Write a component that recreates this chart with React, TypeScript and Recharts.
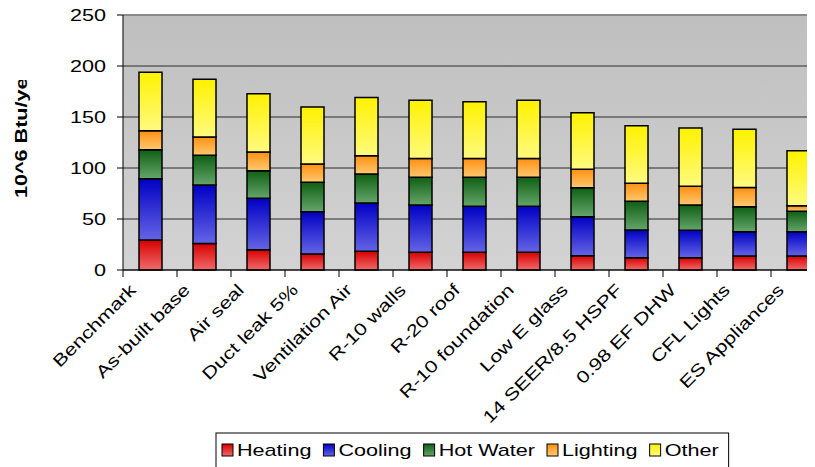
import React from 'react';
import { BarChart, Bar, XAxis, YAxis, CartesianGrid, ReferenceLine } from 'recharts';

const FONT = '"Liberation Sans", Arial, sans-serif';
const SX = 1.27;

const categories = [
  'Benchmark', 'As-built base', 'Air seal', 'Duct leak 5%', 'Ventilation Air', 'R-10 walls',
  'R-20 roof', 'R-10 foundation', 'Low E glass', '14 SEER/8.5 HSPF', '0.98 EF DHW', 'CFL Lights', 'ES Appliances',
];
const heating = [29.4, 26, 19.9, 15.7, 18.3, 17.3, 17.3, 17.3, 14, 12.1, 12.1, 13.7, 13.7];
const cooling = [60.1, 57.3, 50.4, 41.5, 47.4, 46.4, 45.1, 45.1, 38.3, 27.1, 26.8, 23.9, 23.9];
const hotWater = [28.5, 29.1, 27.1, 28.8, 28.4, 27.2, 28.5, 28.5, 28.4, 28.1, 24.8, 24.5, 19.9];
const lighting = [18.6, 18, 18.3, 17.9, 17.9, 18.3, 18.3, 18.3, 18, 17.7, 18.3, 18.9, 5.5];
const other = [57.2, 56.6, 57.2, 55.9, 57, 57.2, 55.8, 57.2, 55.5, 56.5, 57.2, 56.9, 54];

const seriesNames = ['Heating', 'Cooling', 'Hot Water', 'Lighting', 'Other'];
const seriesKeys = ['heating', 'cooling', 'hotWater', 'lighting', 'other'];
const seriesValues = [heating, cooling, hotWater, lighting, other];
const seriesTop = ['#d80000', '#0000c4', '#0f5f14', '#ff9010', '#fff200'];
const seriesBottom = ['#f06a6a', '#6464e6', '#64a66a', '#ffc870', '#fffa80'];
const yTicks = [0, 50, 100, 150, 200, 250];
const yLabel = '10^6 Btu/year';

const data = categories.map((name, i) => {
  const row: Record<string, any> = { name };
  seriesKeys.forEach((k, s) => { row[k] = seriesValues[s][i]; });
  return row;
});

const W = 830;
const H = 478;
const PLOT_LEFT = 115;
const PLOT_RIGHT = 817;
const PLOT_TOP = 15;
const PLOT_BOTTOM = 270;
const STEP = (PLOT_RIGHT - PLOT_LEFT) / categories.length;

function measure(t: string): number {
  try {
    const ctx = document.createElement('canvas').getContext('2d');
    if (ctx) {
      ctx.font = `17px ${FONT}`;
      return ctx.measureText(t).width;
    }
  } catch (e) {}
  return t.length * 9;
}

function XTick(props: any) {
  const { x, y, payload, index } = props;
  const bx = x - STEP / 2;
  return (
    <g>
      <line x1={bx} y1={y} x2={bx} y2={y + 7} stroke="#000" strokeWidth={1} />
      {index === categories.length - 1 && (
        <line x1={x + STEP / 2} y1={y} x2={x + STEP / 2} y2={y + 7} stroke="#000" strokeWidth={1} />
      )}
      <text
        transform={`translate(${x - 13},${y + 21}) rotate(-45) scale(${SX},1)`}
        textAnchor="end"
        fontSize={17}
        fontFamily={FONT}
        fill="#000"
      >
        {payload.value}
      </text>
    </g>
  );
}

function YTick(props: any) {
  const { x, y, payload } = props;
  return (
    <text
      transform={`translate(${x},${y}) scale(${SX},1)`}
      textAnchor="end"
      dy="0.36em"
      fontSize={17}
      fontFamily={FONT}
      fill="#000"
    >
      {payload.value}
    </text>
  );
}

function LegendBox() {
  const boxX = 208;
  const boxY = 433;
  let cx = boxX + 6;
  const items = seriesNames.map((n, i) => {
    const mx = cx;
    const tx = mx + 15;
    const w = measure(n) * SX;
    cx = tx + w + 12;
    return { n, i, mx, tx };
  });
  const boxW = cx - boxX - 2;
  return (
    <g>
      <rect x={boxX} y={boxY} width={boxW} height={60} fill="#fff" stroke="#000" strokeWidth={1} />
      {items.map(({ n, i, mx, tx }) => (
        <g key={n}>
          <rect x={mx} y={boxY + 11} width={11} height={12} fill={`url(#lg${i})`} stroke="#000" strokeWidth={1} />
          <text
            transform={`translate(${tx},${boxY + 23}) scale(${SX},1)`}
            fontSize={17}
            fontFamily={FONT}
            fill="#000"
          >
            {n}
          </text>
        </g>
      ))}
    </g>
  );
}

export default function App() {
  return (
    <div style={{ margin: '-8px 0 0 -8px', width: 815, height: 467, overflow: 'hidden', position: 'relative' }}>
      <div style={{ position: 'absolute', left: 8, top: 0 }}>
        <BarChart
          width={W}
          height={H}
          data={data}
          margin={{ top: PLOT_TOP, right: W - PLOT_RIGHT, left: 0, bottom: 0 }}
        >
          <defs>
            <linearGradient id="plotBg" x1="0" y1="0" x2="0" y2="1">
              <stop offset="0" stopColor="#bfbfbf" />
              <stop offset="1" stopColor="#d3d3d3" />
            </linearGradient>
            {seriesKeys.map((k, i) => (
              <linearGradient key={k} id={`g${i}`} x1="0" y1="0" x2="0" y2="1">
                <stop offset="0" stopColor={seriesTop[i]} />
                <stop offset="1" stopColor={seriesBottom[i]} />
              </linearGradient>
            ))}
            {seriesKeys.map((k, i) => (
              <linearGradient key={k} id={`lg${i}`} x1="0" y1="0" x2="0" y2="1">
                <stop offset="0" stopColor={seriesTop[i]} />
                <stop offset="1" stopColor={seriesBottom[i]} />
              </linearGradient>
            ))}
            <clipPath id="ylabClip">
              <rect x={0} y={80} width={60} height={200} />
            </clipPath>
          </defs>
          <CartesianGrid vertical={false} stroke="#2a2a2a" strokeWidth={1} fill="url(#plotBg)" fillOpacity={1} />
          <ReferenceLine y={250} stroke="#8a8a8a" strokeWidth={2} />
          <XAxis
            dataKey="name"
            interval={0}
            height={H - PLOT_BOTTOM}
            tickLine={false}
            tickSize={0}
            tickMargin={0}
            axisLine={{ stroke: '#000', strokeWidth: 1 }}
            tick={<XTick />}
          />
          <YAxis
            width={PLOT_LEFT}
            domain={[0, 250]}
            ticks={yTicks}
            interval={0}
            tickSize={6}
            tickMargin={11}
            tickLine={{ stroke: '#000' }}
            axisLine={{ stroke: '#000', strokeWidth: 1 }}
            tick={<YTick />}
          />
          {seriesKeys.map((k, i) => (
            <Bar
              key={k}
              dataKey={k}
              name={seriesNames[i]}
              stackId="a"
              barSize={23}
              fill={`url(#g${i})`}
              stroke="#000"
              strokeWidth={1.5}
              isAnimationActive={false}
            />
          ))}
          <g clipPath="url(#ylabClip)">
            <text
              transform={`translate(19,198) rotate(-90) scale(${SX},1)`}
              textAnchor="start"
              fontSize={17}
              fontWeight="bold"
              fontFamily={FONT}
              fill="#000"
            >
              {yLabel}
            </text>
          </g>
          <LegendBox />
        </BarChart>
      </div>
    </div>
  );
}
